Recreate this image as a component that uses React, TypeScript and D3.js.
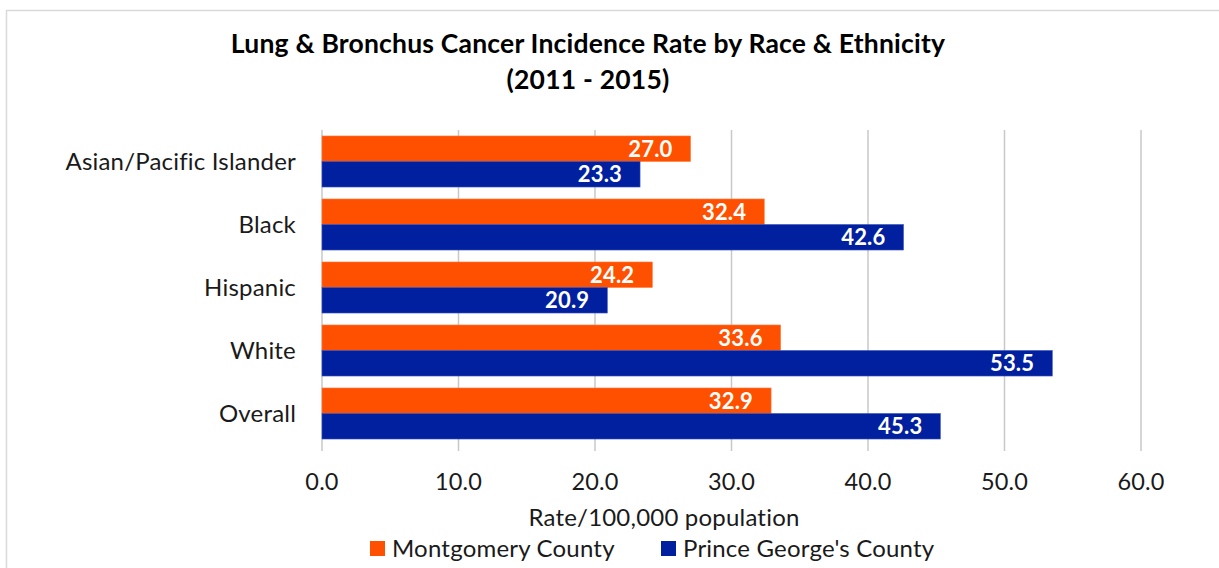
import * as React from 'react';
import * as d3 from 'd3';

const categories = ['Asian/Pacific Islander', 'Black', 'Hispanic', 'White', 'Overall'];
const seriesNames = ['Montgomery County', "Prince George's County"];
const montgomery = [27.0, 32.4, 24.2, 33.6, 32.9];
const princeGeorges = [23.3, 42.6, 20.9, 53.5, 45.3];
const xTicks = [0, 10, 20, 30, 40, 50, 60];
const colors = ['#FF5000', '#00209F'];

const FONT = 'Lato, Carlito, "Open Sans", sans-serif';

export default function App() {
  const width = 1219;
  const height = 568;
  const margin = { left: 322, right: 78, top: 130, bottom: 123 };
  const plotW = width - margin.left - margin.right;
  const plotH = height - margin.top - margin.bottom;

  const x = d3.scaleLinear().domain([0, 60]).range([0, plotW]);
  const y = d3.scaleBand<string>().domain(categories).range([0, plotH]).paddingInner(0.19).paddingOuter(0.095);
  const sub = d3.scaleBand<number>().domain([0, 1]).range([0, y.bandwidth()]);

  const series = [montgomery, princeGeorges];
  const textColor = '#1a1a1a';

  return (
    <svg width={width} height={height} style={{ position: 'absolute', left: 0, top: 0 }} fontFamily={FONT}>
      <rect x={0} y={0} width={width} height={height} fill="#fff" />
      <rect x={6.5} y={10.5} width={width + 10} height={height + 10} fill="none" stroke="#d9d9d9" strokeWidth={1.5} />

      <text x={588} y={44} textAnchor="middle" dy="0.35em" fontSize={26.5} letterSpacing={0.2} fontWeight="bold" fill="#000">
        Lung &amp; Bronchus Cancer Incidence Rate by Race &amp; Ethnicity
      </text>
      <text x={588} y={80} textAnchor="middle" dy="0.35em" fontSize={26.5} letterSpacing={0.2} fontWeight="bold" fill="#000">
        (2011 - 2015)
      </text>

      <g transform={`translate(${margin.left},${margin.top})`}>
        {xTicks.map(t => (
          <line key={t} x1={x(t)} x2={x(t)} y1={0} y2={plotH + 6} stroke="#c8c8c8" strokeWidth={1.5} />
        ))}
        {categories.map((c, i) => (
          <g key={c} transform={`translate(0,${y(c)})`}>
            {series.map((s, k) => (
              <g key={k}>
                <rect x={0} y={sub(k)} width={x(s[i])} height={sub.bandwidth()} fill={colors[k]}
                  stroke={k === 0 ? '#ff7a40' : '#3a52b8'} strokeWidth={0.6} />
                <text x={x(s[i]) - 18} y={(sub(k) ?? 0) + sub.bandwidth() / 2} dy="0.36em" textAnchor="end"
                  fontSize={22} letterSpacing={0.2} fontWeight="bold" fill="#fff">
                  {s[i].toFixed(1)}
                </text>
              </g>
            ))}
            <text x={-26} y={y.bandwidth() / 2} dy="0.36em" textAnchor="end" fontSize={24} letterSpacing={0.2} fill={textColor}>
              {c}
            </text>
          </g>
        ))}
        {xTicks.map(t => (
          <text key={t} x={x(t)} y={plotH + 37} dy="0.36em" textAnchor="middle" fontSize={23.5} letterSpacing={0.2} fill={textColor}>
            {t.toFixed(1)}
          </text>
        ))}
        <text x={342} y={plotH + 72} dy="0.36em" textAnchor="middle" fontSize={24} letterSpacing={0.2} fill={textColor}>
          Rate/100,000 population
        </text>
      </g>

      {seriesNames.map((n, k) => {
        const lx = k === 0 ? 370 : 661;
        return (
          <g key={n}>
            <rect x={lx} y={541} width={15} height={15} fill={colors[k]} />
            <text x={lx + 22} y={548} dy="0.36em" fontSize={24} letterSpacing={0.2} fill={textColor}>{n}</text>
          </g>
        );
      })}
    </svg>
  );
}
